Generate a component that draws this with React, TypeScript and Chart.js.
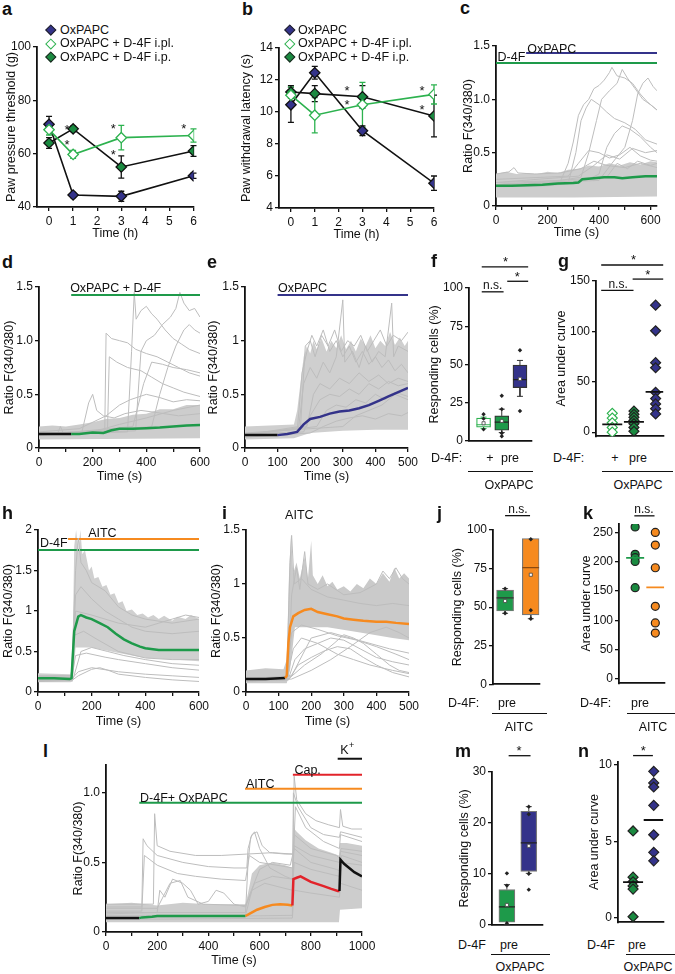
import React, { useEffect, useRef } from "react";
import { Chart, registerables } from "chart.js";

Chart.register(...registerables);

const FONT = '"Liberation Sans", Arial, Helvetica, sans-serif';
Chart.defaults.font.family = FONT;

const NAVY = "#34338a";
const GREEN = "#1e9a4a";
const LGREEN = "#2db24f";
const DKGREEN = "#1a8a40";
const ORANGE = "#f68a1f";
const RED = "#e2232a";
const TRACE = "#bdbdbd";
const BAND = "#cdcdcd";
const INK = "#111";

// ---------- a / b : behaviour ----------
const behavTimes = [0, 1, 3, 6];
const aOxPAPC = [71, 44.5, 44, 51.7];
const aOxPAPCErr = [3, 1, 1.9, 1];
const aIpl = [69, 59.7, 66, 66.8];
const aIplErr = [2, 1.5, 4.6, 2.5];
const aIp = [64, 69.3, 55, 61];
const aIpErr = [2, 1, 4.2, 2];
const aStars = [[0.75, 70], [0.75, 64.4], [2.67, 70.5], [2.67, 60.6], [5.6, 70.5]];

const bOxPAPC = [10.45, 12.45, 8.83, 5.55];
const bOxPAPCErr = [1.1, 0.4, 0.3, 0.45];
const bIpl = [11.05, 9.8, 10.45, 11.1];
const bIplErr = [0.5, 1.1, 1.4, 0.6];
const bIp = [11.25, 11.15, 10.95, 9.75];
const bIpErr = [0.4, 0.5, 0.7, 1.3];
const bStars = [[2.35, 11.5], [2.35, 10.63], [5.5, 11.5], [5.5, 10.31]];

// ---------- c ----------
const cMean = [[0, 0.19], [60, 0.19], [120, 0.195], [180, 0.2], [240, 0.21], [300, 0.215], [320, 0.22], [335, 0.25], [380, 0.26], [420, 0.27], [460, 0.27], [490, 0.26], [530, 0.27], [580, 0.28], [625, 0.28]];
const cBandHi = [[0, 0.3], [40, 0.32], [80, 0.3], [120, 0.31], [160, 0.3], [200, 0.32], [240, 0.31], [280, 0.34], [320, 0.35], [360, 0.38], [400, 0.37], [440, 0.4], [480, 0.38], [520, 0.41], [560, 0.39], [600, 0.42], [625, 0.41]];
const cBandLo = [[0, 0.08], [300, 0.08], [625, 0.09]];
const cTraces = [
  [[0, 0.2], [100, 0.21], [200, 0.22], [250, 0.23], [280, 0.4], [300, 0.6], [320, 0.85], [340, 0.95], [360, 1.0], [380, 1.1], [400, 1.13], [420, 1.18], [440, 1.25], [450, 1.3], [470, 1.22], [500, 1.2], [530, 1.15], [560, 1.05], [590, 0.97], [625, 0.9]],
  [[0, 0.18], [200, 0.19], [280, 0.21], [310, 0.5], [330, 0.8], [350, 0.92], [370, 1.0], [400, 0.95], [430, 0.88], [460, 0.82], [500, 0.78], [540, 0.72], [580, 0.62], [625, 0.58]],
  [[0, 0.22], [250, 0.24], [330, 0.27], [360, 0.5], [390, 0.8], [410, 1.0], [440, 1.08], [470, 1.15], [490, 1.28], [510, 1.2], [540, 1.1], [570, 1.0], [600, 0.95], [625, 0.9]],
  [[0, 0.2], [350, 0.24], [400, 0.3], [430, 0.55], [460, 0.68], [490, 0.75], [520, 0.72], [560, 0.65], [600, 0.55], [625, 0.5]],
  [[0, 0.25], [280, 0.28], [320, 0.4], [360, 0.52], [400, 0.5], [440, 0.45], [480, 0.48], [520, 0.55], [560, 0.47], [600, 0.43], [625, 0.42]],
  [[0, 0.2], [400, 0.24], [450, 0.4], [500, 0.55], [530, 0.8], [550, 1.05], [570, 1.15], [590, 1.2], [610, 1.12], [625, 1.08]],
  [[0, 0.22], [320, 0.28], [380, 0.38], [430, 0.48], [480, 0.44], [530, 0.54], [580, 0.5], [625, 0.52]],
  [[0, 0.3], [50, 0.32], [70, 0.36], [85, 0.31], [150, 0.3], [250, 0.31], [330, 0.35], [380, 0.42], [430, 0.38], [500, 0.36], [560, 0.4], [625, 0.36]],
  [[0, 0.2], [430, 0.27], [470, 0.4], [510, 0.35], [550, 0.42], [600, 0.38], [625, 0.4]],
];

// ---------- d ----------
const dMeanPre = [[0, 0.13], [120, 0.13]];
const dMean = [[120, 0.13], [150, 0.13], [200, 0.145], [240, 0.14], [270, 0.165], [300, 0.18], [350, 0.18], [400, 0.185], [450, 0.19], [500, 0.2], [550, 0.21], [600, 0.215]];
const dBandHi = [[0, 0.2], [50, 0.21], [100, 0.2], [150, 0.22], [200, 0.24], [250, 0.27], [300, 0.28], [350, 0.31], [400, 0.32], [450, 0.36], [500, 0.36], [550, 0.4], [600, 0.4]];
const dBandLo = [[0, 0.08], [600, 0.09]];
const dTraces = [
  [[0, 0.14], [245, 0.15], [250, 1.07], [270, 1.02], [300, 1.0], [330, 0.98], [360, 0.92], [400, 0.88], [440, 0.85], [480, 0.8], [520, 0.75], [560, 0.7], [600, 0.67]],
  [[0, 0.13], [255, 0.14], [262, 0.85], [290, 0.8], [330, 0.75], [380, 0.72], [420, 0.66], [460, 0.6], [500, 0.56], [540, 0.52], [600, 0.48]],
  [[0, 0.12], [330, 0.15], [345, 0.9], [355, 1.45], [362, 1.2], [380, 1.28], [400, 1.32], [420, 1.25], [440, 1.2], [470, 1.1], [500, 1.02], [530, 0.97], [560, 0.92], [600, 0.88]],
  [[0, 0.13], [360, 0.16], [380, 0.9], [400, 1.0], [430, 1.05], [460, 1.15], [490, 1.22], [510, 1.3], [525, 1.45], [540, 1.35], [560, 1.28], [580, 1.3], [600, 1.22]],
  [[0, 0.12], [420, 0.2], [450, 0.5], [480, 0.75], [510, 0.95], [540, 1.1], [560, 1.15], [580, 1.1], [600, 1.07]],
  [[0, 0.14], [160, 0.15], [185, 0.42], [200, 0.5], [215, 0.35], [240, 0.3], [280, 0.28], [320, 0.32], [380, 0.35], [440, 0.33], [520, 0.3], [600, 0.32]],
  [[0, 0.15], [150, 0.18], [250, 0.3], [300, 0.4], [340, 0.45], [400, 0.5], [450, 0.47], [500, 0.43], [550, 0.45], [600, 0.44]],
  [[0, 0.13], [70, 0.14], [80, 0.2], [90, 0.14], [200, 0.15], [300, 0.22], [400, 0.28], [500, 0.35], [600, 0.4]],
  [[0, 0.12], [350, 0.2], [390, 0.6], [420, 0.8], [460, 0.78], [500, 0.75], [550, 0.73], [600, 0.7]],
];

// ---------- e ----------
const eMeanPre = [[0, 0.12], [100, 0.12]];
const eMean = [[100, 0.12], [130, 0.13], [160, 0.15], [180, 0.22], [200, 0.27], [230, 0.29], [260, 0.32], [290, 0.34], [320, 0.35], [350, 0.37], [380, 0.4], [410, 0.44], [440, 0.48], [470, 0.52], [500, 0.56]];
const eBandHi = [[0, 0.2], [150, 0.22], [160, 0.35], [170, 0.6], [180, 0.85], [190, 0.95], [200, 0.88], [210, 1.0], [220, 0.92], [235, 1.02], [250, 0.9], [265, 1.0], [280, 0.93], [295, 1.05], [310, 0.92], [325, 1.0], [340, 0.9], [355, 1.02], [370, 0.95], [385, 1.05], [400, 0.93], [415, 1.0], [430, 0.95], [445, 1.08], [460, 0.96], [475, 1.03], [490, 0.95], [500, 1.0]];
const eBandLo = [[0, 0.08], [150, 0.09], [200, 0.14], [300, 0.16], [400, 0.17], [500, 0.17]];
const eTraces = [
  [[0, 0.13], [160, 0.15], [175, 0.7], [190, 0.9], [205, 1.05], [220, 0.95], [240, 1.1], [260, 0.9], [280, 1.0], [300, 0.85], [320, 0.95], [340, 0.8], [360, 0.9], [380, 0.78], [400, 0.85], [420, 0.75], [440, 0.82], [460, 0.72], [480, 0.78], [500, 0.7]],
  [[0, 0.12], [165, 0.2], [180, 0.6], [200, 0.75], [220, 0.65], [240, 0.8], [260, 0.7], [280, 0.85], [300, 1.38], [306, 0.8], [330, 0.9], [350, 0.75], [370, 0.95], [390, 0.8], [410, 0.9], [430, 0.85], [450, 1.35], [456, 0.85], [470, 0.95], [500, 0.9]],
  [[0, 0.11], [180, 0.15], [200, 0.3], [230, 0.45], [260, 0.5], [290, 0.48], [320, 0.55], [350, 0.5], [380, 0.6], [410, 0.55], [440, 0.62], [470, 0.58], [500, 0.6]],
  [[0, 0.1], [200, 0.14], [240, 0.2], [280, 0.25], [320, 0.28], [360, 0.3], [400, 0.27], [440, 0.32], [480, 0.3], [500, 0.33]],
  [[0, 0.13], [170, 0.18], [185, 0.95], [200, 1.0], [215, 0.85], [235, 1.05], [255, 0.95], [275, 1.1], [295, 0.9], [315, 1.0], [335, 0.95], [355, 1.05], [375, 0.9], [395, 1.0], [415, 1.1], [435, 0.95], [455, 1.05], [480, 1.0], [500, 1.08]],
  [[0, 0.12], [220, 0.2], [250, 0.35], [280, 0.4], [310, 0.38], [340, 0.45], [370, 0.42], [400, 0.5], [430, 0.45], [460, 0.52], [500, 0.48]],
  [[0, 0.12], [190, 0.2], [210, 0.5], [230, 0.6], [260, 0.55], [290, 0.65], [320, 0.6], [350, 0.7], [380, 0.62], [410, 0.68], [440, 0.6], [470, 0.65], [500, 0.62]],
  [[0, 0.14], [300, 0.2], [340, 0.3], [380, 0.35], [420, 0.4], [460, 0.5], [500, 0.45]],
];

// ---------- h ----------
const hMean = [[0, 0.17], [60, 0.17], [118, 0.16], [125, 0.17], [135, 0.75], [150, 0.93], [160, 0.95], [180, 0.92], [200, 0.9], [230, 0.85], [260, 0.8], [290, 0.72], [320, 0.65], [350, 0.6], [380, 0.56], [400, 0.54], [450, 0.52], [500, 0.52], [550, 0.52], [600, 0.52]];
const hBandHi = [[0, 0.23], [120, 0.22], [128, 0.3], [135, 1.8], [142, 2.0], [150, 1.75], [158, 2.0], [165, 1.7], [175, 1.75], [190, 1.5], [200, 1.55], [210, 1.4], [225, 1.42], [240, 1.3], [255, 1.32], [270, 1.2], [285, 1.22], [300, 1.1], [315, 1.12], [330, 1.0], [350, 1.02], [370, 0.95], [390, 0.97], [410, 0.92], [430, 0.95], [450, 0.9], [470, 0.94], [500, 0.88], [520, 0.93], [550, 0.9], [570, 0.95], [600, 0.9]];
const hBandLo = [[0, 0.12], [120, 0.12], [130, 0.13], [140, 0.55], [200, 0.55], [300, 0.48], [400, 0.42], [500, 0.4], [600, 0.38]];
const hTraces = [
  [[0, 0.13], [125, 0.14], [150, 0.2], [200, 0.28], [230, 0.3], [260, 0.27], [300, 0.22], [400, 0.18], [500, 0.15], [600, 0.13]],
  [[0, 0.15], [125, 0.15], [140, 0.45], [180, 0.48], [250, 0.43], [300, 0.4], [400, 0.35], [500, 0.3], [600, 0.27]],
  [[0, 0.14], [130, 0.15], [160, 0.5], [200, 0.55], [260, 0.5], [320, 0.45], [400, 0.4], [500, 0.35], [600, 0.33]],
  [[0, 0.16], [125, 0.16], [150, 0.25], [200, 0.3], [300, 0.25], [400, 0.22], [500, 0.2], [600, 0.18]],
  [[0, 0.18], [125, 0.18], [135, 0.7], [170, 0.75], [220, 0.65], [300, 0.5], [400, 0.42], [500, 0.4], [600, 0.4]],
  [[0, 0.2], [125, 0.2], [140, 1.5], [150, 1.9], [160, 1.6], [180, 1.5], [200, 1.35], [250, 1.25], [300, 1.05], [350, 0.95], [400, 0.9], [500, 0.85], [600, 0.9]],
  [[0, 0.19], [125, 0.2], [140, 1.2], [160, 1.3], [200, 1.15], [250, 1.0], [300, 0.9], [350, 0.8], [400, 0.75], [500, 0.72], [600, 0.75]],
  [[0, 0.17], [125, 0.18], [140, 1.0], [200, 0.95], [300, 0.85], [400, 0.8], [450, 0.85], [500, 0.9], [550, 0.95], [600, 0.92]],
];

// ---------- i ----------
const iMeanPre = [[0, 0.12], [60, 0.12], [120, 0.13]];
const iMean = [[120, 0.13], [125, 0.15], [130, 0.45], [135, 0.6], [145, 0.7], [160, 0.73], [180, 0.76], [200, 0.77], [220, 0.74], [250, 0.72], [280, 0.7], [300, 0.68], [330, 0.67], [360, 0.66], [400, 0.65], [430, 0.65], [460, 0.64], [500, 0.63]];
const iBandHi = [[0, 0.2], [60, 0.22], [115, 0.21], [125, 0.3], [132, 1.1], [138, 1.45], [145, 1.1], [155, 1.2], [165, 1.05], [180, 1.25], [190, 1.05], [200, 1.4], [205, 1.08], [220, 1.0], [235, 1.08], [250, 0.98], [265, 1.02], [280, 0.95], [300, 0.98], [320, 0.93], [340, 1.0], [360, 0.96], [380, 1.05], [400, 1.0], [420, 1.1], [440, 1.02], [455, 1.15], [470, 1.05], [485, 1.1], [500, 1.05]];
const iBandLo = [[0, 0.08], [125, 0.08], [135, 0.2], [150, 0.6], [250, 0.6], [350, 0.55], [450, 0.5], [500, 0.48]];
const iTraces = [
  [[0, 0.1], [130, 0.12], [180, 0.25], [230, 0.35], [270, 0.45], [300, 0.53], [330, 0.5], [360, 0.45], [400, 0.35], [440, 0.25], [470, 0.2], [500, 0.18]],
  [[0, 0.1], [130, 0.11], [160, 0.25], [200, 0.32], [240, 0.38], [280, 0.42], [320, 0.4], [360, 0.32], [400, 0.25], [450, 0.18], [500, 0.14]],
  [[0, 0.11], [125, 0.12], [145, 0.4], [170, 0.5], [220, 0.45], [280, 0.35], [330, 0.3], [380, 0.25], [450, 0.2], [500, 0.17]],
  [[0, 0.12], [125, 0.13], [140, 0.55], [170, 0.62], [220, 0.58], [280, 0.52], [340, 0.48], [400, 0.42], [460, 0.35], [500, 0.3]],
  [[0, 0.1], [140, 0.12], [200, 0.2], [260, 0.3], [320, 0.42], [380, 0.55], [430, 0.6], [470, 0.55], [500, 0.5]],
  [[0, 0.13], [130, 0.14], [140, 0.9], [155, 1.15], [165, 0.95], [180, 1.3], [190, 1.0], [220, 0.95], [250, 1.0], [300, 0.9], [350, 0.92], [400, 1.0], [420, 1.12], [440, 1.05], [460, 1.15], [480, 1.05], [500, 1.0]],
  [[0, 0.12], [125, 0.14], [135, 1.2], [140, 1.45], [148, 1.0], [170, 1.05], [200, 0.95], [250, 0.88], [300, 0.85], [350, 0.82], [400, 0.8], [450, 0.82], [500, 0.8]],
  [[0, 0.11], [130, 0.12], [150, 0.3], [180, 0.4], [220, 0.45], [260, 0.5], [300, 0.48], [350, 0.4], [400, 0.32], [450, 0.28], [500, 0.25]],
  [[0, 0.12], [140, 0.15], [200, 0.5], [260, 0.55], [320, 0.5], [380, 0.45], [440, 0.4], [500, 0.36]],
];

// ---------- l ----------
const lMeanBase = [[0, 0.1], [130, 0.1]];
const lMeanOx = [[130, 0.1], [140, 0.105], [180, 0.11], [200, 0.115], [300, 0.115], [400, 0.115], [545, 0.115]];
const lMeanAitc = [[545, 0.115], [560, 0.13], [590, 0.16], [620, 0.18], [650, 0.195], [680, 0.2], [710, 0.195], [728, 0.19]];
const lMeanCap = [[728, 0.19], [732, 0.38], [745, 0.39], [760, 0.4], [800, 0.36], [850, 0.33], [880, 0.31], [905, 0.295], [912, 0.295]];
const lMeanK = [[912, 0.295], [916, 0.52], [930, 0.49], [950, 0.46], [970, 0.43], [1000, 0.4]];
const lBandHi = [[0, 0.2], [100, 0.21], [200, 0.19], [300, 0.21], [400, 0.2], [545, 0.2], [555, 0.28], [570, 0.42], [600, 0.48], [650, 0.5], [700, 0.48], [728, 0.46], [732, 0.75], [745, 0.72], [780, 0.66], [830, 0.6], [880, 0.57], [910, 0.55], [914, 0.64], [940, 0.64], [1000, 0.62]];
const lBandLo = [[0, 0.07], [910, 0.07], [914, 0.16], [1000, 0.17]];
const lTraces = [
  [[0, 0.18], [140, 0.18], [145, 0.67], [160, 0.62], [200, 0.55], [300, 0.5], [400, 0.47], [500, 0.46], [550, 0.46], [555, 0.6], [570, 0.7], [590, 0.72], [610, 0.62], [640, 0.57], [700, 0.56], [730, 0.56], [735, 1.12], [745, 0.95], [780, 0.85], [820, 0.8], [870, 0.77], [912, 0.75], [916, 0.88], [925, 0.76], [960, 0.74], [1000, 0.74]],
  [[0, 0.2], [185, 0.2], [190, 0.85], [200, 0.62], [250, 0.58], [350, 0.55], [450, 0.55], [550, 0.56], [650, 0.57], [728, 0.56]],
  [[0, 0.15], [140, 0.15], [150, 0.55], [200, 0.48], [280, 0.42], [350, 0.4], [450, 0.38], [545, 0.37], [560, 0.55], [600, 0.5], [700, 0.47], [730, 0.46], [740, 0.9], [780, 0.75], [850, 0.65], [912, 0.6], [916, 0.7], [1000, 0.65]],
  [[0, 0.13], [200, 0.14], [210, 0.3], [230, 0.25], [260, 0.38], [300, 0.35], [330, 0.3], [360, 0.2], [400, 0.22], [430, 0.3], [460, 0.28], [500, 0.2], [545, 0.18], [580, 0.35], [650, 0.4], [728, 0.38], [735, 0.7], [800, 0.6], [900, 0.55], [912, 0.53], [918, 0.6], [1000, 0.58]],
  [[0, 0.17], [200, 0.17], [250, 0.35], [290, 0.37], [320, 0.25], [380, 0.2], [545, 0.19], [600, 0.45], [650, 0.5], [720, 0.48], [735, 0.6], [800, 0.5], [900, 0.45], [912, 0.44], [920, 0.55], [1000, 0.5]],
  [[0, 0.1], [728, 0.12], [732, 1.0], [750, 0.9], [800, 0.75], [850, 0.7], [912, 0.68], [916, 0.72], [1000, 0.68]],
  [[0, 0.12], [545, 0.12], [570, 0.3], [620, 0.35], [728, 0.3], [735, 0.5], [800, 0.45], [912, 0.4], [916, 0.5], [1000, 0.48]],
  [[0, 0.09], [728, 0.1], [735, 0.3], [800, 0.28], [912, 0.25], [916, 0.35], [1000, 0.3]],
  [[0, 0.14], [545, 0.14], [555, 0.5], [565, 0.68], [580, 0.72], [600, 0.6], [640, 0.46], [700, 0.4], [728, 0.38], [735, 0.62], [800, 0.55], [912, 0.5], [916, 0.58], [1000, 0.55]],
];

// ---------- f / j / m : box plots ----------
const fCats = [1, 2, 3];
const fQ1 = [9, 6.9, 34.8];
const fQ3 = [14.9, 16.3, 49.5];
const fMed = [10.5, 12.2, 40];
const fLo = [8, 5.4, 29.1];
const fHi = [15.5, 20.7, 52.6];
const fMeanV = [11.5, 13, 40.5];
const fDots = [[17.4, 14.5, 7.5], [29.5, 20.7, 5, 3], [59.3, 19.5]];

const jCats = [1, 2];
const jQ1 = [47.5, 45];
const jQ3 = [61, 94.5];
const jMed = [56, 75.6];
const jLo = [46, 42.5];
const jHi = [62, 94];
const jMeanV = [54, 71];
const jDots = [[62, 46], [94, 48, 42.5]];

const mCats = [1, 2];
const mQ1 = [0.5, 10.5];
const mQ3 = [6.9, 22.3];
const mMed = [3.5, 16.1];
const mLo = [0, 10.1];
const mHi = [7.9, 23.2];
const mMeanV = [3.9, 15.5];
const mDots = [[10.1, 7.7, 0.3], [23.2, 21.7, 10, 6.9]];

// ---------- g / k / n : dot plots ----------
const gVals = [[18.7, 14, 9.3, 4.7, 0], [20.9, 17.7, 14.7, 11.6, 8.4, 4.7, 0.9], [126, 100.6, 69, 63.9, 39.6, 33.3, 28, 23.3, 18.1]];
const gMed = [7.8, 10.3, 39.9];
const kVals = [[260, 213, 207.3, 200.8, 155.8], [250.5, 228.9, 190, 123.9, 95.3, 77.9]];
const kMed = [207, 156.3];
const nVals = [[5.68, 2.65, 2.35, 2.08, 1.87, 0.06], [9.59, 8.83, 8.56, 7.36, 5.43, 4.28, 3.72]];
const nMed = [2.33, 6.4];

// ---------- helpers ----------
const pts = (a: number[][]) => a.map(([x, y]) => ({ x, y }));
const lineDs = (a: number[][], color: string, width = 1, extra: any = {}) => ({
  type: "line", data: pts(a), borderColor: color, borderWidth: width, pointRadius: 0, fill: false, tension: 0, ...extra,
});
const bandDs = (hi: number[][], lo: number[][], color: string) => [
  { type: "line", data: pts(hi), borderWidth: 1, borderColor: "rgba(0,0,0,0)", pointRadius: 0, fill: "+1", backgroundColor: color, tension: 0 },
  { type: "line", data: pts(lo), borderWidth: 1, borderColor: "rgba(0,0,0,0)", pointRadius: 0, fill: false, tension: 0 },
];
const traceDs = (list: number[][][]) => list.map((t) => lineDs(t, TRACE, 1));

type Txt = { x: number; y: number; t: string; s?: number; c?: string; a?: CanvasTextAlign; dy?: number };
type Seg = { x1: number; x2: number; y: number; c?: string; w?: number };

const lbl = (x: number, y: number, t: string, s = 12.5): Txt => ({ x, y, t, s, dy: 0.36 * s });
const star = (x: number, y: number): Txt => ({ x, y, t: "*", s: 13, a: "center", dy: 7.4 });
const sig = (x1: number, x2: number, y: number, text: string, tx: number) => ({
  seg: { x1, x2, y, w: 1.3 } as Seg,
  txt: text === "*" ? ({ x: tx, y, t: "*", s: 13, a: "center", dy: -0.5 } as Txt) : ({ x: tx, y, t: text, s: 12, a: "center", dy: -2.7 } as Txt),
});

function annotPlugin(texts: Txt[], segs: Seg[]) {
  return {
    id: "annot",
    afterDatasetsDraw(chart: any) {
      const { ctx } = chart;
      const xs = chart.scales.x, ys = chart.scales.y;
      ctx.save();
      segs.forEach((s) => {
        ctx.strokeStyle = s.c || INK;
        ctx.lineWidth = s.w || 1.3;
        ctx.beginPath();
        ctx.moveTo(xs.getPixelForValue(s.x1), ys.getPixelForValue(s.y));
        ctx.lineTo(xs.getPixelForValue(s.x2), ys.getPixelForValue(s.y));
        ctx.stroke();
      });
      texts.forEach((t) => {
        ctx.fillStyle = t.c || INK;
        ctx.font = `${t.s || 12.5}px ${FONT}`;
        ctx.textAlign = t.a || "left";
        ctx.textBaseline = "alphabetic";
        ctx.fillText(t.t, xs.getPixelForValue(t.x), ys.getPixelForValue(t.y) + (t.dy || 0));
      });
      ctx.restore();
    },
  };
}

function errPlugin(series: { y: number[]; e: number[]; c: string }[]) {
  return {
    id: "errbars",
    beforeDatasetsDraw(chart: any) {
      const { ctx } = chart;
      const xs = chart.scales.x, ys = chart.scales.y;
      ctx.save();
      series.forEach((s) => {
        ctx.strokeStyle = s.c;
        ctx.lineWidth = 1.3;
        behavTimes.forEach((t, i) => {
          const px = xs.getPixelForValue(t);
          const p1 = ys.getPixelForValue(s.y[i] - s.e[i]);
          const p2 = ys.getPixelForValue(s.y[i] + s.e[i]);
          ctx.beginPath();
          ctx.moveTo(px, p1); ctx.lineTo(px, p2);
          ctx.moveTo(px - 3, p1); ctx.lineTo(px + 3, p1);
          ctx.moveTo(px - 3, p2); ctx.lineTo(px + 3, p2);
          ctx.stroke();
        });
      });
      ctx.restore();
    },
  };
}

type AxisCfg = { min: number; max: number; ticks?: number[]; fmt?: (v: number) => string; title?: string };
type PanelCfg = {
  box: number[]; area: number[]; xH?: number; x: AxisCfg; y: AxisCfg; datasets: any[];
  texts?: Txt[]; segs?: Seg[]; extraPlugins?: any[];
};

function build(p: PanelCfg) {
  const [cl, ct, cw, ch] = p.box;
  const [L, T, R, B] = p.area;
  const xH = p.xH ?? 2;
  const yW = L - cl;
  const axis = (a: AxisCfg, isX: boolean) => ({
    type: "linear",
    min: a.min,
    max: a.max,
    offset: false,
    afterBuildTicks: (s: any) => { s.ticks = (a.ticks || []).map((v) => ({ value: v })); },
    afterFit: (s: any) => {
      if (isX) { s.height = xH; s.paddingLeft = 0; s.paddingRight = 0; }
      else { s.width = yW; s.paddingTop = 0; s.paddingBottom = 0; }
    },
    ticks: {
      display: !!a.ticks, autoSkip: false, maxRotation: 0, minRotation: 0, padding: isX ? 3 : 2, color: INK,
      font: { size: 12 },
      callback: (v: any) => (a.fmt ? a.fmt(Number(v)) : String(v)),
    },
    grid: { display: !!a.ticks, drawOnChartArea: false, drawTicks: true, tickLength: 4, color: INK, lineWidth: 1.3, offset: false },
    border: { display: true, color: INK, width: 1.8 },
    title: a.title ? { display: true, text: a.title, padding: 0, color: INK, font: { size: 12.5 } } : { display: false },
  });
  return {
    type: "line",
    data: { datasets: p.datasets },
    options: {
      animation: false, responsive: false, maintainAspectRatio: false, events: [],
      layout: { padding: { left: 0, top: T - ct, right: cl + cw - R, bottom: ct + ch - B - xH } },
      plugins: { legend: { display: false }, tooltip: { enabled: false } },
      scales: { x: axis(p.x, true), y: axis(p.y, false) },
    },
    plugins: [...(p.extraPlugins || []), annotPlugin(p.texts || [], p.segs || [])],
  };
}

const fmtEvery200 = (v: number) => (v % 200 === 0 ? String(v) : "");
const fmtDec1 = (v: number) => (v === 0 ? "0" : v.toFixed(1));
const range = (a: number, b: number, s: number) => { const r: number[] = []; for (let v = a; v <= b + 1e-9; v += s) r.push(v); return r; };

const behavLine = (vals: number[], lineColor: string, fill: string, border: string) => ({
  type: "line", data: behavTimes.map((t, i) => ({ x: t, y: vals[i] })), borderColor: lineColor, borderWidth: 1.6,
  pointStyle: "rectRot", pointRadius: 5.2, pointBackgroundColor: fill, pointBorderColor: border, pointBorderWidth: 1.3, tension: 0,
});

function boxDatasets(cats: number[], q1: number[], q3: number[], med: number[], lo: number[], hi: number[], mean: number[], dots: number[][], fills: string[], borders: string[], whisk: string[], medC: string[], width: number) {
  const ds: any[] = [];
  ds.push({ type: "line", data: cats.map((c, i) => ({ x: c, y: mean[i] })), showLine: false, pointStyle: "rect", pointRadius: 2.2, pointBackgroundColor: "#fff", pointBorderColor: "#444", pointBorderWidth: 0.8 });
  dots.forEach((arr, i) => ds.push({ type: "line", data: arr.map((v) => ({ x: cats[i], y: v })), showLine: false, pointStyle: "rectRot", pointRadius: 2.2, pointBackgroundColor: "#222", pointBorderColor: "#222", pointBorderWidth: 0 }));
  ds.push({ type: "line", data: cats.map((c, i) => ({ x: c, y: med[i] })), showLine: false, pointStyle: "line", pointRadius: width / 2, pointBorderColor: medC, pointBorderWidth: 1.2 });
  ds.push({ type: "bar", data: cats.map((c, i) => ({ x: c, y: [q1[i], q3[i]] })), backgroundColor: fills, borderColor: borders, borderWidth: 1.2, borderSkipped: false, barThickness: width });
  cats.forEach((c, i) => {
    const w = { borderColor: whisk[i], borderWidth: 1, pointRadius: [0, 3], pointStyle: "line", pointBorderColor: whisk[i], pointBorderWidth: 1 };
    ds.push({ type: "line", data: [{ x: c, y: q3[i] }, { x: c, y: hi[i] }], ...w });
    ds.push({ type: "line", data: [{ x: c, y: q1[i] }, { x: c, y: lo[i] }], ...w });
  });
  return ds;
}

function dotDatasets(vals: number[][], meds: number[], fills: string[], borders: string[], medColors: string[], style: string, r: number, medR: number) {
  const ds: any[] = [];
  ds.push({ type: "line", data: meds.map((m, i) => ({ x: i + 1, y: m })), showLine: false, pointStyle: "line", pointRadius: medR, pointBorderColor: medColors, pointBorderWidth: 1.8 });
  vals.forEach((arr, i) => ds.push({ type: "line", data: arr.map((v) => ({ x: i + 1, y: v })), showLine: false, pointStyle: style, pointRadius: r, pointBackgroundColor: fills[i], pointBorderColor: borders[i], pointBorderWidth: 1.2 }));
  return ds;
}

function sigParts(list: ReturnType<typeof sig>[]) {
  return { segs: list.map((s) => s.seg), texts: list.map((s) => s.txt) };
}

// ---------- panel configs ----------
const panels: PanelCfg[] = [];

// a
panels.push({
  box: [4, 38, 196, 203], area: [37, 47, 194, 207], xH: 34,
  x: { min: -0.5, max: 6, ticks: range(0, 6, 1), title: "Time (h)" },
  y: { min: 40, max: 100, ticks: [40, 60, 80, 100], title: "Paw pressure threshold (g)" },
  datasets: [behavLine(aIpl, LGREEN, "#fff", LGREEN), behavLine(aIp, INK, DKGREEN, INK), behavLine(aOxPAPC, INK, NAVY, INK)],
  texts: aStars.map(([x, y]) => star(x, y)),
  extraPlugins: [errPlugin([{ y: aOxPAPC, e: aOxPAPCErr, c: INK }, { y: aIp, e: aIpErr, c: INK }, { y: aIpl, e: aIplErr, c: LGREEN }])],
});
// b
panels.push({
  box: [239, 38, 203, 204], area: [279, 48, 434, 208], xH: 34,
  x: { min: -0.5, max: 6, ticks: range(0, 6, 1), title: "Time (h)" },
  y: { min: 4, max: 14, ticks: [4, 6, 8, 10, 12, 14], title: "Paw withdrawal latency (s)" },
  datasets: [behavLine(bIpl, LGREEN, "#fff", LGREEN), behavLine(bIp, INK, DKGREEN, INK), behavLine(bOxPAPC, INK, NAVY, INK)],
  texts: bStars.map(([x, y]) => star(x, y)),
  extraPlugins: [errPlugin([{ y: bOxPAPC, e: bOxPAPCErr, c: INK }, { y: bIp, e: bIpErr, c: INK }, { y: bIpl, e: bIplErr, c: LGREEN }])],
});
// c
panels.push({
  box: [461, 36, 209, 204], area: [496, 46, 657, 206], xH: 34,
  x: { min: 0, max: 625, ticks: range(0, 600, 100), fmt: fmtEvery200, title: "Time (s)" },
  y: { min: 0, max: 1.5, ticks: [0, 0.5, 1, 1.5], fmt: fmtDec1, title: "Ratio F(340/380)" },
  datasets: [
    lineDs([[117, 1.434], [625, 1.434]], NAVY, 2),
    lineDs([[0, 1.34], [625, 1.34]], GREEN, 2),
    lineDs(cMean, GREEN, 2.5),
    ...traceDs(cTraces),
    ...bandDs(cBandHi, cBandLo, BAND),
  ],
  texts: [lbl(6, 1.397, "D-4F"), lbl(121, 1.48, "OxPAPC")],
});
// d
panels.push({
  box: [2, 277, 208, 207], area: [39, 287, 200, 448], xH: 36,
  x: { min: 0, max: 600, ticks: range(0, 600, 100), fmt: fmtEvery200, title: "Time (s)" },
  y: { min: 0, max: 1.5, ticks: [0, 0.5, 1, 1.5], fmt: fmtDec1, title: "Ratio F(340/380)" },
  datasets: [
    lineDs([[120, 1.425], [600, 1.425]], GREEN, 2),
    lineDs(dMean, GREEN, 2.5),
    lineDs(dMeanPre, INK, 2.5),
    ...traceDs(dTraces),
    ...bandDs(dBandHi, dBandLo, BAND),
  ],
  texts: [lbl(116, 1.5, "OxPAPC + D-4F")],
});
// e
panels.push({
  box: [206, 277, 212, 207], area: [245, 287, 408, 448], xH: 36,
  x: { min: 0, max: 500, ticks: range(0, 500, 100), title: "Time (s)" },
  y: { min: 0, max: 1.5, ticks: [0, 0.5, 1, 1.5], title: "Ratio F(340/380)" },
  datasets: [
    lineDs([[100, 1.425], [500, 1.425]], NAVY, 2),
    lineDs(eMean, NAVY, 2.5),
    lineDs(eMeanPre, INK, 2.5),
    ...traceDs(eTraces),
    ...bandDs(eBandHi, eBandLo, "#cfcfcf"),
  ],
  texts: [lbl(101, 1.5, "OxPAPC")],
});
// f
{
  const s = sigParts([sig(0.9, 3.45, 113.8, "*", 2.2), sig(2.3, 3.45, 104.4, "*", 2.85), sig(0.9, 2.1, 97.5, "n.s.", 1.5)]);
  panels.push({
    box: [427, 250, 113, 199], area: [469, 288, 538, 447], xH: 2,
    x: { min: 0.2, max: 3.65 },
    y: { min: 0, max: 100, ticks: [0, 25, 50, 75, 100], title: "Responding cells (%)" },
    datasets: boxDatasets(fCats, fQ1, fQ3, fMed, fLo, fHi, fMeanV, fDots, ["#ffffff", GREEN, NAVY], [LGREEN, "#333", "#333"], [LGREEN, "#333", "#333"], [LGREEN, "#222", "#222"], 14),
    texts: s.texts, segs: s.segs,
  });
}
// g
{
  const s = sigParts([sig(0.49, 3.35, 165.9, "*", 1.98), sig(1.94, 3.35, 151.9, "*", 2.64), sig(0.49, 1.98, 140.7, "n.s.", 1.27)]);
  panels.push({
    box: [554, 250, 121, 198], area: [596, 281, 675, 446], xH: 2,
    x: { min: 0.25, max: 3.35 },
    y: { min: -4, max: 150, ticks: [0, 50, 100, 150], title: "Area under curve" },
    datasets: dotDatasets(gVals, gMed, ["#ffffff", DKGREEN, NAVY], [LGREEN, "#222", "#222"], [INK, INK, INK], "rectRot", 5, 10),
    texts: s.texts, segs: s.segs,
  });
}
// h
panels.push({
  box: [1, 520, 209, 209], area: [38, 530, 199, 692], xH: 37,
  x: { min: 0, max: 600, ticks: range(0, 600, 100), fmt: fmtEvery200, title: "Time (s)" },
  y: { min: 0, max: 2, ticks: [0, 0.5, 1, 1.5, 2], title: "Ratio F(340/380)" },
  datasets: [
    lineDs(hMean, GREEN, 2.5),
    ...traceDs(hTraces),
    lineDs([[112, 1.889], [600, 1.889]], ORANGE, 2),
    lineDs([[0, 1.753], [600, 1.753]], GREEN, 2),
    ...bandDs(hBandHi, hBandLo, "#d0d0d0"),
  ],
  texts: [lbl(7, 1.84, "D-4F"), lbl(187, 1.963, "AITC")],
});
// i
panels.push({
  box: [209, 505, 210, 224], area: [246, 530, 409, 692], xH: 37,
  x: { min: 0, max: 500, ticks: range(0, 500, 100), title: "Time (s)" },
  y: { min: 0, max: 1.5, ticks: [0, 0.5, 1, 1.5], title: "Ratio F(340/380)" },
  datasets: [
    lineDs([[120, 1.546], [500, 1.546]], ORANGE, 2),
    lineDs(iMean, ORANGE, 2.5),
    lineDs(iMeanPre, INK, 2.5),
    ...traceDs(iTraces),
    ...bandDs(iBandHi, iBandLo, "#cacaca"),
  ],
  texts: [lbl(120, 1.64, "AITC")],
});
// j
{
  const s = sigParts([sig(1.0, 1.97, 109.3, "n.s.", 1.5)]);
  panels.push({
    box: [450, 500, 99, 194], area: [493, 530, 547, 692], xH: 2,
    x: { min: 0.53, max: 2.33 },
    y: { min: 0, max: 100, ticks: [0, 25, 50, 75, 100], title: "Responding cells (%)" },
    datasets: boxDatasets(jCats, jQ1, jQ3, jMed, jLo, jHi, jMeanV, jDots, [GREEN, ORANGE], ["#777", "#777"], ["#444", "#444"], ["#333", "#8a4a10"], 17),
    texts: s.texts, segs: s.segs,
  });
}
// k
{
  const s = sigParts([sig(0.96, 1.96, 279, "n.s.", 1.44)]);
  panels.push({
    box: [579, 500, 96, 194], area: [619, 524, 675, 692], xH: 2,
    x: { min: 0.2, max: 2.44 },
    y: { min: -8, max: 265, ticks: [0, 50, 100, 150, 200, 250], title: "Area under curve" },
    datasets: dotDatasets(kVals, kMed, [DKGREEN, ORANGE], ["#222", "#222"], [GREEN, ORANGE], "circle", 4, 9),
    texts: s.texts, segs: s.segs,
  });
}
// l
panels.push({
  box: [71, 738, 312, 230], area: [106, 765, 362, 932], xH: 36,
  x: { min: 0, max: 1000, ticks: range(0, 1000, 100), fmt: fmtEvery200, title: "Time (s)" },
  y: { min: 0, max: 1.2, ticks: [0, 0.5, 1], fmt: fmtDec1, title: "Ratio F(340/380)" },
  datasets: [
    lineDs([[130, 0.928], [1000, 0.928]], GREEN, 2),
    lineDs([[543, 1.029], [1000, 1.029]], ORANGE, 2),
    lineDs([[730, 1.13], [1000, 1.13]], RED, 2),
    lineDs([[905, 1.245], [1000, 1.245]], INK, 2, { clip: false }),
    lineDs(lMeanK, INK, 2.5),
    lineDs(lMeanCap, RED, 2.5),
    lineDs(lMeanAitc, ORANGE, 2.5),
    lineDs(lMeanOx, GREEN, 2.5),
    lineDs(lMeanBase, INK, 2.5),
    ...traceDs(lTraces),
    ...bandDs(lBandHi, lBandLo, BAND),
  ],
  texts: [
    lbl(133, 0.964, "D-4F+ OxPAPC"), lbl(547, 1.065, "AITC"), lbl(736, 1.165, "Cap."),
    lbl(915, 1.31, "K"), { x: 949, y: 1.345, t: "+", s: 9, dy: 3 },
  ],
});
// m
{
  const s = sigParts([sig(1.08, 2.08, 33.2, "*", 1.56)]);
  panels.push({
    box: [457, 740, 95, 194], area: [492, 772, 550, 932], xH: 2,
    x: { min: 0.32, max: 2.64 },
    y: { min: 0, max: 30, ticks: [0, 10, 20, 30], title: "Responding cells (%)" },
    datasets: boxDatasets(mCats, mQ1, mQ3, mMed, mLo, mHi, mMeanV, mDots, [GREEN, NAVY], ["#777", "#777"], ["#444", "#444"], ["#222", "#222"], 16),
    texts: s.texts, segs: s.segs,
  });
}
// n
{
  const s = sigParts([sig(1.0, 1.96, 10.62, "*", 1.5)]);
  panels.push({
    box: [587, 740, 88, 194], area: [618, 762, 675, 932], xH: 2,
    x: { min: 0.27, max: 2.46 },
    y: { min: -0.3, max: 10.2, ticks: [0, 5, 10], title: "Area under curve" },
    datasets: dotDatasets(nVals, nMed, [DKGREEN, NAVY], ["#222", "#222"], [INK, INK], "rectRot", 5, 10),
    texts: s.texts, segs: s.segs,
  });
}

// ---------- HTML pieces ----------
const LETTERS: [string, number, number][] = [
  ["a", 2, 15], ["b", 242, 15], ["c", 460, 14], ["d", 2, 268], ["e", 207, 268], ["f", 431, 267], ["g", 558, 267],
  ["h", 2, 519], ["i", 222, 519], ["j", 437, 519], ["k", 583, 519], ["l", 43, 757], ["m", 455, 757], ["n", 578, 757],
];

type HT = [string, number, number, "left" | "center"];
const CAT_TEXTS: HT[] = [
  ["D-4F:", 431, 463, "left"], ["+", 490, 463, "center"], ["pre", 510, 463, "center"], ["OxPAPC", 509, 490, "center"],
  ["D-4F:", 553, 463, "left"], ["+", 615, 463, "center"], ["pre", 638, 463, "center"], ["OxPAPC", 638, 490, "center"],
  ["D-4F:", 448, 708, "left"], ["pre", 507, 708, "center"], ["AITC", 519, 731.5, "center"],
  ["D-4F:", 580, 708, "left"], ["pre", 640, 708, "center"], ["AITC", 653, 731.5, "center"],
  ["D-4F", 458, 949.5, "left"], ["pre", 509, 949.5, "center"], ["OxPAPC", 520, 971.5, "center"],
  ["D-4F", 587, 949.5, "left"], ["pre", 637, 949.5, "center"], ["OxPAPC", 648, 971.5, "center"],
];
const UNDERLINES: [number, number, number][] = [
  [468, 533, 472], [602, 673, 472], [492, 547, 714], [627, 675, 714], [491, 550, 955], [626, 675, 955],
];
const LEGEND_ITEMS: [string, string, string][] = [
  ["OxPAPC", NAVY, "#222"],
  ["OxPAPC + D-4F i.pl.", "#fff", LGREEN],
  ["OxPAPC + D-4F i.p.", DKGREEN, "#222"],
];
const LEGEND_POS: [number, number][] = [[51, 60], [290, 298]];
const LEGEND_ROWS = [30, 43.5, 57];

function Txt({ t, x, base, size, bold, align }: any) {
  const top = base - 0.8465 * size;
  return (
    <div style={{
      position: "absolute", left: x, top, fontSize: size, lineHeight: `${size}px`, fontFamily: FONT, fontWeight: bold ? 700 : 400,
      color: INK, whiteSpace: "nowrap", transform: align === "center" ? "translateX(-50%)" : undefined,
    }}>{t}</div>
  );
}

function ChartBox({ cfg }: { cfg: PanelCfg }) {
  const ref = useRef<HTMLCanvasElement>(null);
  useEffect(() => {
    const chart = new Chart(ref.current as HTMLCanvasElement, build(cfg) as any);
    return () => chart.destroy();
  }, [cfg]);
  const [l, t, w, h] = cfg.box;
  return <canvas ref={ref} width={w} height={h} style={{ position: "absolute", left: l, top: t, width: w, height: h }} />;
}

export default function App() {
  return (
    <div style={{ position: "absolute", left: 0, top: 0, width: 675, height: 974, background: "#fff", overflow: "hidden", fontFamily: FONT }}>
      {panels.map((p, i) => <ChartBox key={i} cfg={p} />)}
      {LETTERS.map(([t, x, b], i) => <Txt key={"L" + i} t={t} x={x} base={b} size={18} bold />)}
      {CAT_TEXTS.map(([t, x, b, a], i) => <Txt key={"C" + i} t={t} x={x} base={b} size={12.5} align={a} />)}
      {UNDERLINES.map(([x1, x2, y], i) => (
        <div key={"U" + i} style={{ position: "absolute", left: x1, top: y - 0.7, width: x2 - x1, height: 0, borderTop: `1.4px solid ${INK}` }} />
      ))}
      {LEGEND_POS.map(([mx, tx], k) =>
        LEGEND_ITEMS.map(([t, fill, border], i) => (
          <React.Fragment key={`G${k}${i}`}>
            <div style={{
              position: "absolute", left: mx - 3.8, top: LEGEND_ROWS[i] - 3.8, width: 7.6, height: 7.6, boxSizing: "border-box",
              background: fill, border: `1.3px solid ${border}`, transform: "rotate(45deg)",
            }} />
            <Txt t={t} x={tx} base={LEGEND_ROWS[i] + 4.5} size={12.5} />
          </React.Fragment>
        ))
      )}
    </div>
  );
}
